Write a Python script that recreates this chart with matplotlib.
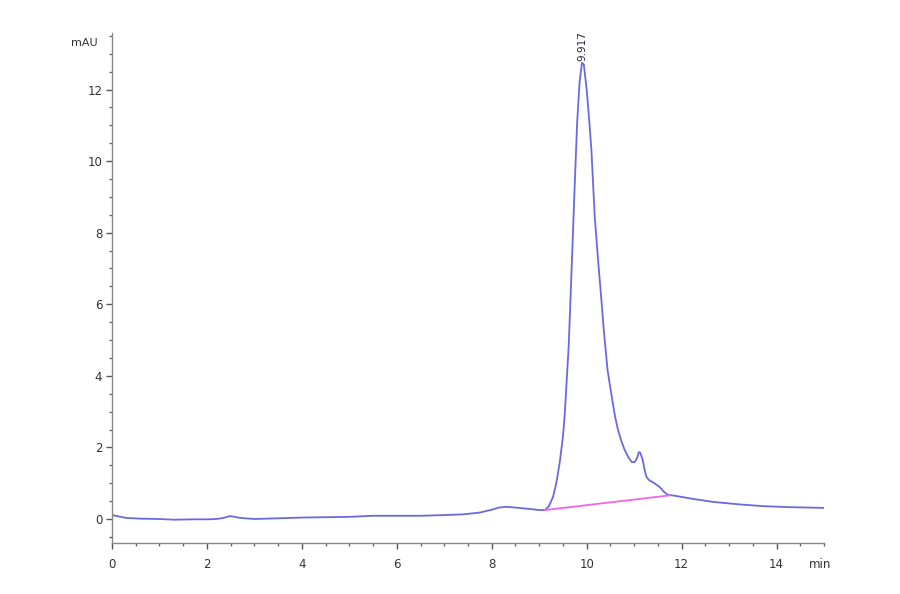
import matplotlib
matplotlib.use("Agg")
import matplotlib.pyplot as plt
from matplotlib.ticker import MultipleLocator

time_min = [0.0, 0.15, 0.3, 0.6, 1.0, 1.3, 1.7, 2.0, 2.2, 2.35, 2.48, 2.55, 2.65, 2.8, 3.0,
            3.5, 4.0, 4.5, 5.0, 5.5, 6.0, 6.5, 7.0, 7.4, 7.75, 8.0, 8.15, 8.3, 8.5, 8.8,
            9.0, 9.12, 9.2, 9.29, 9.36, 9.43, 9.5, 9.54, 9.58, 9.62, 9.66, 9.7, 9.75, 9.8,
            9.85, 9.9, 9.94, 10.0, 10.05, 10.1, 10.17, 10.24, 10.31, 10.36, 10.4, 10.44,
            10.5, 10.55, 10.6, 10.66, 10.73, 10.8, 10.88, 10.95, 11.01, 11.06, 11.1, 11.13,
            11.18, 11.22, 11.26, 11.32, 11.39, 11.47, 11.54, 11.62, 11.7, 11.8, 11.9, 12.2,
            12.65, 13.2, 13.7, 14.3, 15.0]
signal_mau = [0.11, 0.07, 0.03, 0.01, 0.0, -0.02, -0.01, -0.01, 0.0, 0.03, 0.08, 0.07, 0.04, 0.02, 0.0,
              0.02, 0.04, 0.05, 0.06, 0.09, 0.09, 0.09, 0.11, 0.13, 0.18, 0.26, 0.32, 0.34, 0.32, 0.28,
              0.25, 0.25, 0.35, 0.61, 1.0, 1.56, 2.3, 2.96, 3.9, 4.8, 6.2, 7.6, 9.4, 11.1,
              12.2, 12.75, 12.7, 12.0, 11.2, 10.3, 8.44, 7.23, 6.12, 5.28, 4.72, 4.16,
              3.65, 3.24, 2.85, 2.49, 2.18, 1.93, 1.72, 1.59, 1.59, 1.7, 1.87, 1.85,
              1.65, 1.38, 1.17, 1.08, 1.03, 0.96, 0.89, 0.77, 0.68, 0.66, 0.64, 0.57,
              0.48, 0.41, 0.36, 0.33, 0.31]

baseline_t = [9.12, 11.75]
baseline_y = [0.25, 0.66]

peak_label = "9.917"
peak_t = 9.917
peak_y = 12.75

x_ticks = [0, 2, 4, 6, 8, 10, 12, 14]
y_ticks = [0, 2, 4, 6, 8, 10, 12]

fig = plt.figure(figsize=(9, 5.94), dpi=100)
ax = fig.add_axes([0.1244, 0.0859, 0.7912, 0.8585])

ax.plot(time_min, signal_mau, color="#6a6ae0", lw=1.3)
ax.plot(baseline_t, baseline_y, color="#ee66e8", lw=1.3)

ax.text(peak_t, peak_y + 0.05, peak_label, rotation=90, ha="center", va="bottom",
        fontsize=7.5, color="#222244")

ax.set_xlim(0, 15)
ax.set_ylim(-0.67, 13.58)
ax.set_xticks(x_ticks)
ax.set_yticks(y_ticks)
ax.xaxis.set_minor_locator(MultipleLocator(0.5))
ax.yaxis.set_minor_locator(MultipleLocator(0.5))

for s in ["top", "right"]:
    ax.spines[s].set_visible(False)
for s in ["left", "bottom"]:
    ax.spines[s].set_color("#888888")
    ax.spines[s].set_linewidth(1.0)

ax.tick_params(axis="both", which="major", direction="out", length=4, width=1,
               color="#555555", labelsize=8.5, labelcolor="#333333")
ax.tick_params(axis="x", which="major", pad=7)
ax.tick_params(axis="y", which="major", pad=3)
ax.tick_params(axis="both", which="minor", direction="out", length=2, width=1,
               color="#666666")

ax.text(-0.02, 0.99, "mAU", transform=ax.transAxes, ha="right", va="top",
        fontsize=8, color="#333333")
ax.text(0.995, -0.03, "min", transform=ax.transAxes, ha="center", va="top",
        fontsize=8.5, color="#333333")

fig.savefig("out.png", dpi=100)
